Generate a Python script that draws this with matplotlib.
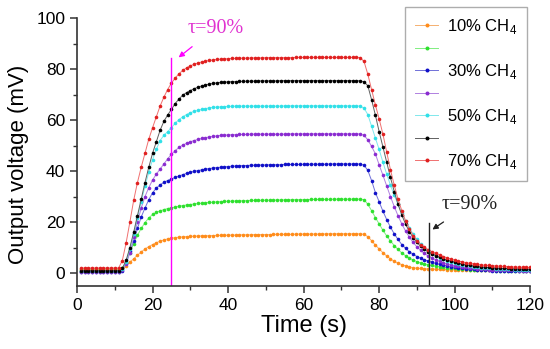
import numpy as np
import matplotlib
matplotlib.use("Agg")
from matplotlib import pyplot as plt
from matplotlib.ticker import MultipleLocator

plt.rcParams['font.family'] = ['Liberation Sans', 'DejaVu Sans']
plt.rcParams['mathtext.fontset'] = 'custom'
plt.rcParams['mathtext.rm'] = 'Liberation Sans'

# time axis, one sample per second
time = np.arange(1, 121)

# output voltage (mV), rows of 10 samples
ch4_10 = [1.6, 1.6, 1.6, 1.6, 1.6, 1.6, 1.6, 1.6, 1.6, 1.6,
          1.6, 1.8, 2.8, 4.3, 5.6, 7.0, 8.3, 9.4, 10.4, 11.2,
          11.9, 12.5, 13.0, 13.4, 13.7, 13.9, 14.1, 14.2, 14.3, 14.4,
          14.5, 14.5, 14.6, 14.6, 14.7, 14.7, 14.8, 14.8, 14.8, 14.9,
          14.9, 14.9, 15.0, 15.0, 15.0, 15.0, 15.1, 15.1, 15.1, 15.1,
          15.1, 15.2, 15.2, 15.2, 15.2, 15.2, 15.2, 15.3, 15.3, 15.3,
          15.3, 15.3, 15.3, 15.3, 15.3, 15.4, 15.4, 15.4, 15.4, 15.4,
          15.4, 15.4, 15.4, 15.4, 15.4, 15.2, 14.3, 12.7, 11.0, 9.5,
          8.0, 6.7, 5.6, 4.6, 3.9, 3.3, 2.8, 2.4, 2.1, 1.9,
          1.8, 1.7, 1.6, 1.6, 1.5, 1.5, 1.5, 1.4, 1.4, 1.4,
          1.4, 1.4, 1.4, 1.4, 1.4, 1.4, 1.3, 1.3, 1.3, 1.3,
          1.3, 1.3, 1.3, 1.3, 1.3, 1.3, 1.3, 1.3, 1.3, 1.3]
ch4_20 = [1.2, 1.2, 1.2, 1.2, 1.2, 1.2, 1.2, 1.2, 1.2, 1.2,
          1.2, 1.8, 4.3, 8.0, 11.5, 14.8, 17.5, 19.8, 21.6, 23.0,
          23.8, 24.4, 24.9, 25.3, 25.6, 25.9, 26.2, 26.5, 26.7, 26.9,
          27.1, 27.3, 27.4, 27.6, 27.7, 27.8, 27.9, 28.0, 28.1, 28.2,
          28.2, 28.3, 28.3, 28.4, 28.4, 28.5, 28.5, 28.5, 28.6, 28.6,
          28.6, 28.6, 28.7, 28.7, 28.7, 28.7, 28.8, 28.8, 28.8, 28.8,
          28.8, 28.9, 28.9, 28.9, 28.9, 28.9, 28.9, 29.0, 29.0, 29.0,
          29.0, 29.0, 29.0, 29.0, 29.0, 28.8, 27.0, 24.5, 21.8, 19.3,
          16.8, 14.6, 12.6, 10.8, 9.3, 7.9, 6.8, 5.9, 5.1, 4.5,
          4.0, 3.6, 3.3, 3.0, 2.7, 2.5, 2.3, 2.1, 2.0, 1.8,
          1.7, 1.6, 1.5, 1.4, 1.4, 1.3, 1.2, 1.2, 1.1, 1.1,
          1.0, 1.0, 1.0, 0.9, 0.9, 0.9, 0.9, 0.8, 0.8, 0.8]
ch4_30 = [0.4, 0.4, 0.4, 0.4, 0.4, 0.4, 0.4, 0.4, 0.4, 0.4,
          0.4, 1.0, 4.0, 8.5, 12.5, 17.5, 22.0, 25.5, 28.8, 31.5,
          33.3, 34.6, 35.6, 36.3, 36.9, 37.5, 38.1, 38.6, 39.1, 39.5,
          39.9, 40.2, 40.5, 40.8, 41.0, 41.2, 41.4, 41.5, 41.7, 41.8,
          41.9, 42.0, 42.1, 42.2, 42.2, 42.3, 42.3, 42.4, 42.4, 42.4,
          42.5, 42.5, 42.5, 42.5, 42.6, 42.6, 42.6, 42.6, 42.6, 42.7,
          42.7, 42.7, 42.7, 42.7, 42.7, 42.7, 42.8, 42.8, 42.8, 42.8,
          42.8, 42.8, 42.8, 42.8, 42.8, 42.3, 40.3, 36.3, 31.6, 28.0,
          24.3, 21.0, 18.0, 15.4, 13.2, 11.2, 9.7, 8.4, 7.4, 6.5,
          5.8, 5.2, 4.7, 4.2, 3.8, 3.4, 3.1, 2.8, 2.5, 2.3,
          2.1, 1.9, 1.7, 1.6, 1.5, 1.4, 1.3, 1.2, 1.1, 1.0,
          1.0, 0.9, 0.9, 0.9, 0.8, 0.8, 0.8, 0.8, 0.7, 0.7]
ch4_40 = [0.6, 0.6, 0.6, 0.6, 0.6, 0.6, 0.6, 0.6, 0.6, 0.6,
          0.6, 1.3, 3.5, 8.0, 14.0, 20.0, 25.5, 30.0, 33.5, 36.5,
          38.8, 40.8, 42.8, 44.8, 46.6, 48.0, 49.3, 50.2, 50.9, 51.5,
          52.0, 52.4, 52.8, 53.1, 53.4, 53.6, 53.8, 54.0, 54.1, 54.2,
          54.3, 54.3, 54.4, 54.4, 54.4, 54.5, 54.5, 54.5, 54.5, 54.5,
          54.5, 54.5, 54.5, 54.5, 54.5, 54.6, 54.6, 54.6, 54.6, 54.6,
          54.6, 54.6, 54.6, 54.6, 54.6, 54.6, 54.6, 54.6, 54.6, 54.6,
          54.6, 54.6, 54.6, 54.6, 54.6, 54.0, 52.3, 49.7, 46.8, 42.5,
          38.4, 34.2, 30.0, 26.1, 22.5, 19.3, 16.5, 14.1, 12.0, 10.3,
          8.9, 7.7, 6.7, 5.9, 5.2, 4.6, 4.1, 3.6, 3.2, 2.9,
          2.6, 2.4, 2.2, 2.0, 1.8, 1.7, 1.6, 1.5, 1.4, 1.3,
          1.3, 1.2, 1.2, 1.1, 1.1, 1.1, 1.0, 1.0, 1.0, 1.0]
ch4_50 = [0.9, 0.9, 0.9, 0.9, 0.9, 0.9, 0.9, 0.9, 0.9, 0.9,
          0.9, 1.6, 4.5, 9.5, 15.5, 21.5, 28.0, 34.0, 39.5, 44.5,
          48.5, 52.0, 54.0, 55.5, 57.0, 58.8, 60.2, 61.3, 62.2, 62.9,
          63.4, 63.8, 64.2, 64.5, 64.8, 65.0, 65.1, 65.2, 65.3, 65.4,
          65.4, 65.5, 65.5, 65.5, 65.5, 65.5, 65.5, 65.5, 65.5, 65.5,
          65.5, 65.5, 65.5, 65.5, 65.6, 65.6, 65.6, 65.6, 65.6, 65.6,
          65.6, 65.6, 65.6, 65.6, 65.6, 65.6, 65.6, 65.6, 65.6, 65.6,
          65.6, 65.6, 65.6, 65.6, 65.5, 64.7, 62.2, 57.6, 53.0, 48.5,
          43.5, 38.8, 34.5, 30.5, 27.0, 23.5, 20.5, 17.8, 15.3, 13.2,
          11.3, 9.9, 8.7, 7.7, 6.8, 6.1, 5.5, 4.9, 4.4, 4.0,
          3.6, 3.3, 3.0, 2.7, 2.5, 2.3, 2.1, 2.0, 1.9, 1.8,
          1.7, 1.6, 1.6, 1.5, 1.5, 1.4, 1.4, 1.4, 1.3, 1.3]
ch4_60 = [1.0, 1.0, 1.0, 1.0, 1.0, 1.0, 1.0, 1.0, 1.0, 1.0,
          1.0, 1.8, 5.0, 10.0, 16.0, 22.5, 29.0, 35.5, 41.5, 47.0,
          51.5, 56.0, 59.5, 62.0, 64.2, 66.5, 68.3, 69.8, 70.8, 71.6,
          72.3, 72.9, 73.4, 73.8, 74.1, 74.4, 74.6, 74.8, 74.9, 75.0,
          75.1, 75.1, 75.2, 75.2, 75.3, 75.3, 75.3, 75.4, 75.4, 75.4,
          75.4, 75.4, 75.4, 75.5, 75.5, 75.5, 75.5, 75.5, 75.5, 75.5,
          75.5, 75.5, 75.5, 75.5, 75.5, 75.5, 75.5, 75.5, 75.5, 75.5,
          75.5, 75.5, 75.5, 75.5, 75.4, 75.0, 73.5, 68.0, 62.0, 55.5,
          49.5, 43.5, 37.5, 32.0, 27.0, 22.8, 19.2, 16.3, 13.9, 12.0,
          10.5, 9.3, 8.3, 7.5, 6.8, 6.2, 5.6, 5.1, 4.7, 4.3,
          3.9, 3.6, 3.3, 3.0, 2.8, 2.6, 2.4, 2.3, 2.2, 2.1,
          2.0, 1.9, 1.8, 1.8, 1.7, 1.7, 1.6, 1.6, 1.6, 1.5]
ch4_70 = [2.0, 2.0, 2.0, 2.0, 2.0, 2.0, 2.0, 2.0, 2.0, 2.0,
          2.0, 4.9, 11.8, 20.0, 28.5, 35.5, 41.5, 47.0, 52.5, 57.0,
          61.3, 65.5, 69.0, 72.0, 74.5, 76.5, 78.2, 79.5, 80.5, 81.3,
          81.9, 82.4, 82.8, 83.1, 83.4, 83.6, 83.8, 83.9, 84.0, 84.1,
          84.2, 84.2, 84.3, 84.3, 84.3, 84.4, 84.4, 84.4, 84.4, 84.5,
          84.5, 84.5, 84.5, 84.5, 84.5, 84.5, 84.5, 84.6, 84.6, 84.6,
          84.6, 84.6, 84.6, 84.6, 84.6, 84.6, 84.6, 84.6, 84.6, 84.6,
          84.6, 84.6, 84.6, 84.6, 84.5, 83.0, 78.0, 72.0, 66.0, 60.5,
          54.5, 47.5, 40.5, 34.5, 29.0, 24.5, 20.5, 17.3, 14.7, 12.7,
          11.2, 10.1, 9.2, 8.4, 7.7, 7.1, 6.5, 6.0, 5.5, 5.1,
          4.7, 4.4, 4.1, 3.8, 3.6, 3.4, 3.2, 3.1, 3.0, 2.9,
          2.8, 2.7, 2.6, 2.5, 2.4, 2.4, 2.3, 2.3, 2.2, 2.2]

series = [ch4_10, ch4_20, ch4_30, ch4_40, ch4_50, ch4_60, ch4_70]
labels = ['10% CH$_4$', ' ', '30% CH$_4$', ' ', '50% CH$_4$', ' ', '70% CH$_4$']
colors = ['#FF8C1A', '#2EE02E', '#1010C8', '#8A2BD0', '#30E0E8', '#000000', '#E02020']
line_colors = ['#F5B070', '#80EE80', '#7070D8', '#B080E0', '#80E8EC', '#606060', '#F07070']

# 90% response / recovery times
t_rise = 25
t_fall = 93.2

fig = plt.figure(figsize=(5.5, 3.49), dpi=100)
ax = fig.add_axes([0.14, 0.181, 0.824, 0.767])

for vals, lab, c, lc in zip(series, labels, colors, line_colors):
    ax.plot(time, vals, color=lc, lw=0.7, marker='o', markersize=2.6,
            markerfacecolor=c, markeredgecolor=c, markeredgewidth=0, label=lab)

serif = ['Liberation Serif', 'DejaVu Serif']
ax.plot([t_rise, t_rise], [-5, 84.3], color='#FF00FF', lw=1.0)
ax.annotate('τ=90%', xy=(26.9, 84.6), xytext=(36.6, 96.0), color='#E033D0',
            fontsize=14.5, fontfamily=serif, ha='center', va='center',
            arrowprops=dict(arrowstyle='-|>', color='#FF00FF', lw=0.9,
                            shrinkA=7, shrinkB=0, mutation_scale=8))
ax.plot([t_fall, t_fall], [-5, 19.6], color='#202020', lw=1.0)
ax.annotate('τ=90%', xy=(94.1, 17.1), xytext=(104.0, 27.0), color='#202020',
            fontsize=14.5, fontfamily=serif, ha='center', va='center',
            arrowprops=dict(arrowstyle='-|>', color='#202020', lw=0.9,
                            shrinkA=7, shrinkB=0, mutation_scale=8))

ax.set_xlim(0, 120)
ax.set_ylim(-5, 100)
ax.xaxis.set_major_locator(MultipleLocator(20))
ax.xaxis.set_minor_locator(MultipleLocator(10))
ax.yaxis.set_major_locator(MultipleLocator(20))
ax.yaxis.set_minor_locator(MultipleLocator(10))
ax.tick_params(which='major', direction='out', length=5, width=1.1,
               labelsize=12.5, color='#333333')
ax.tick_params(which='minor', direction='out', length=3, width=1.0, color='#333333')
for side in ['top', 'right']:
    ax.spines[side].set_visible(False)
for side in ['left', 'bottom']:
    ax.spines[side].set_linewidth(1.2)
    ax.spines[side].set_color('#333333')

ax.set_xlabel('Time (s)', fontsize=17, labelpad=2)
ax.set_ylabel('Output voltage (mV)', fontsize=16, labelpad=4)
ax.yaxis.set_label_coords(-0.105, 0.455)

leg = ax.legend(loc='upper left', bbox_to_anchor=(405 / 550, 1 - 7 / 349),
                bbox_transform=fig.transFigure, borderaxespad=0,
                fontsize=12, frameon=True, fancybox=False,
                edgecolor='#999999', handlelength=1.4, handletextpad=0.5,
                labelspacing=0.33, borderpad=0.6, markerscale=1.1)
leg.get_frame().set_linewidth(1.0)

fig.savefig('out.png', dpi=100)
